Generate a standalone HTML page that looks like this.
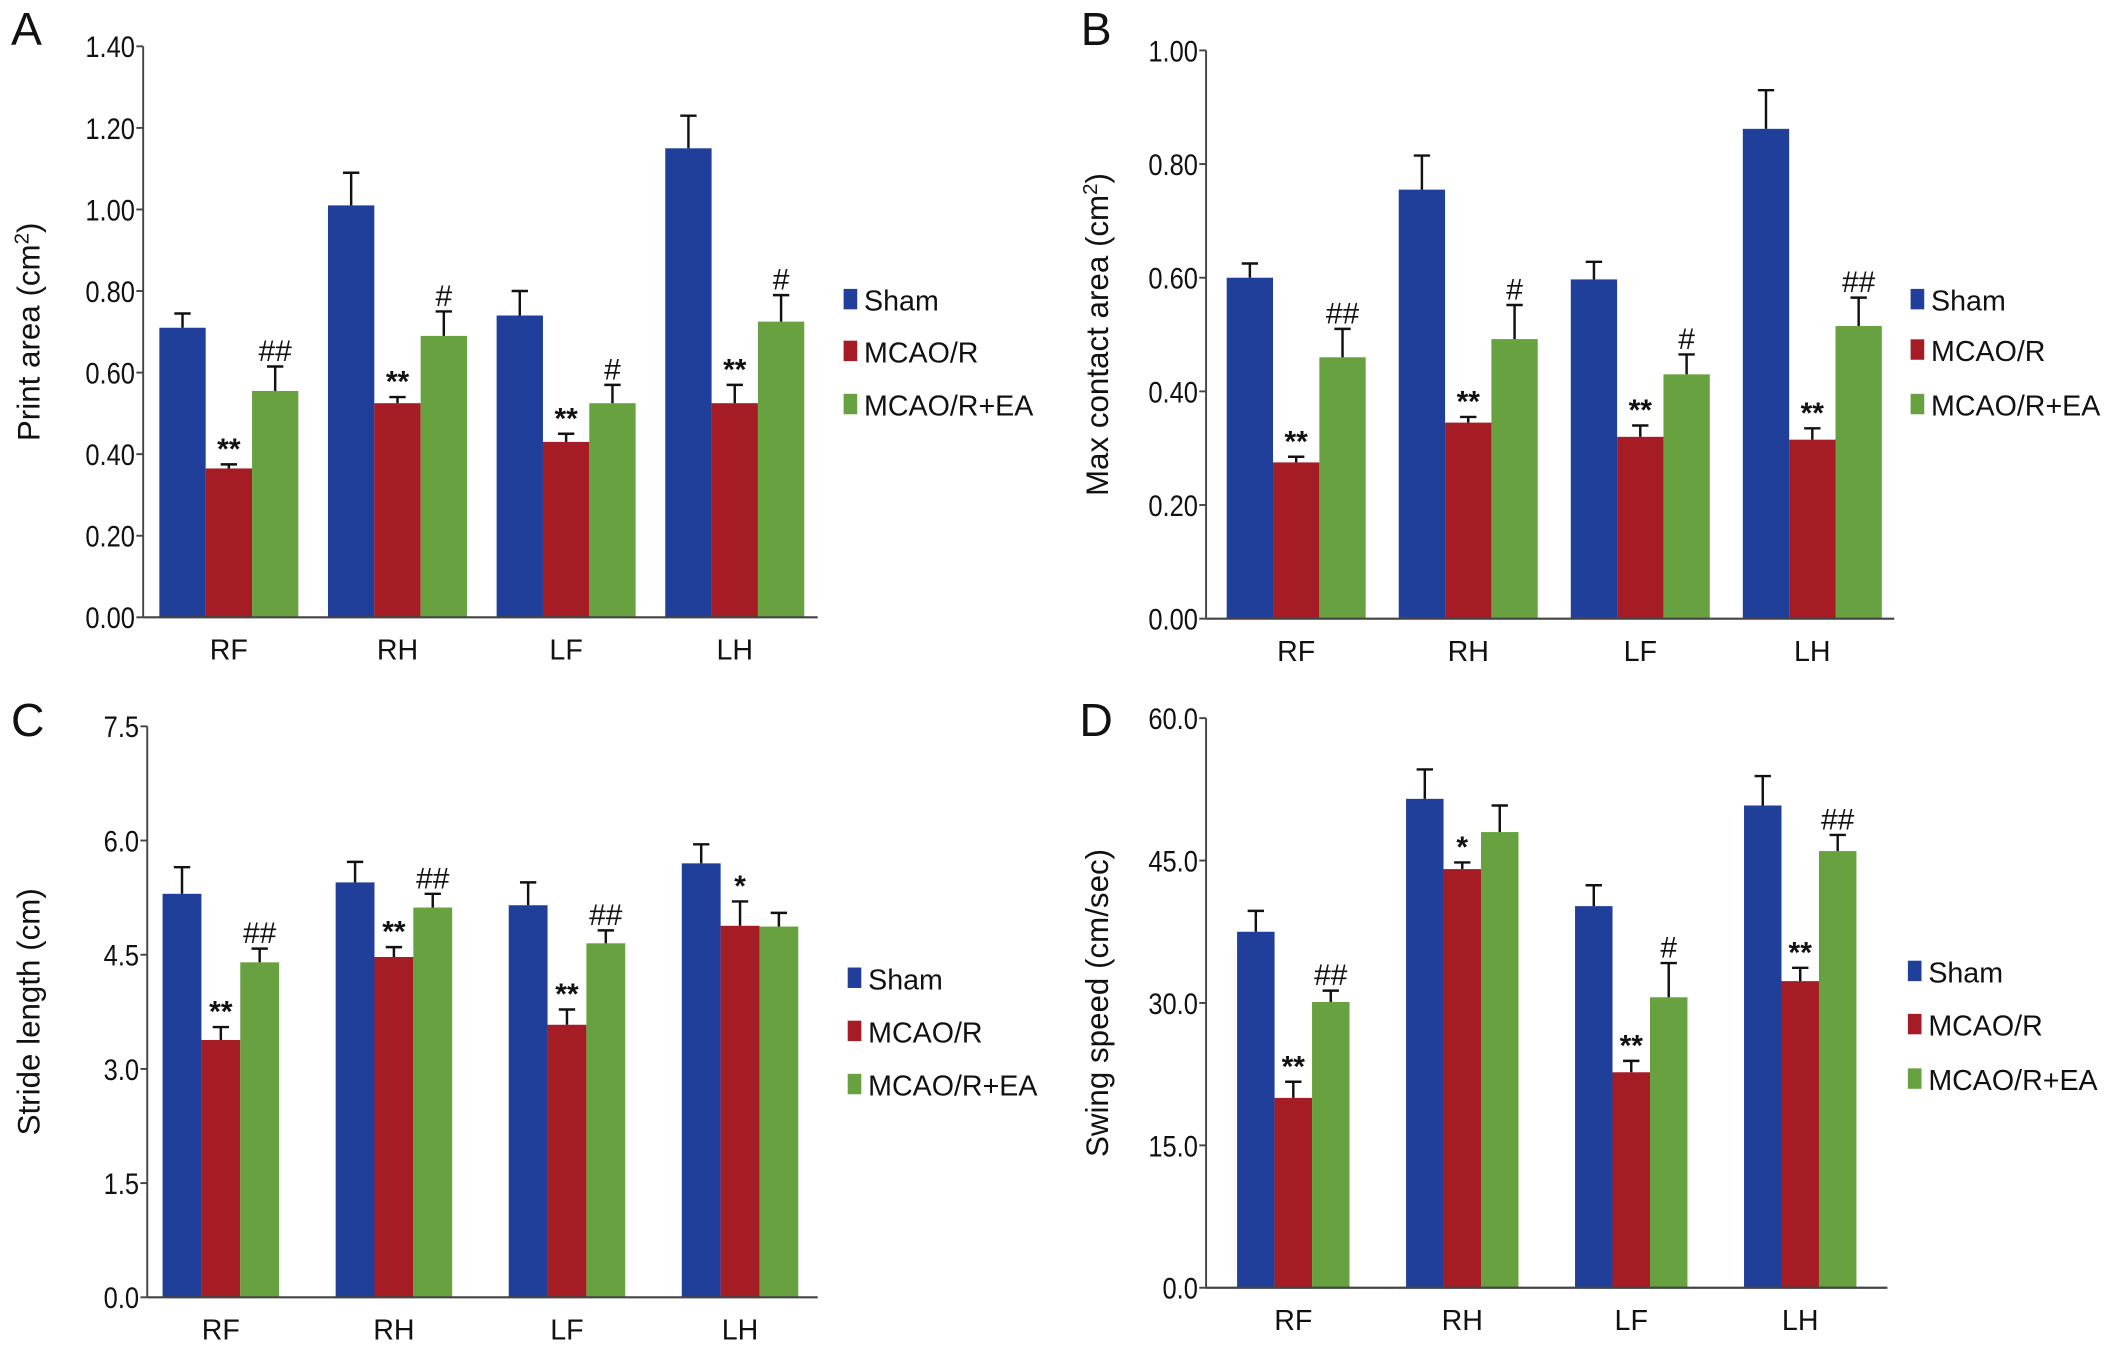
<!DOCTYPE html>
<html><head><meta charset="utf-8"><style>
html,body{margin:0;padding:0;background:#fff}
svg{display:block}
text{font-family:"Liberation Sans",Arial,sans-serif;fill:#111}
</style></head><body>
<svg id="fig" width="2126" height="1345" viewBox="0 0 1560 987" xmlns="http://www.w3.org/2000/svg"></svg>
<script>
const categories = ["RF","RH","LF","LH"];
const seriesNames = ["Sham","MCAO/R","MCAO/R+EA"];
// Panel A
const aSham = [0.71,1.01,0.74,1.15], aShamErr = [0.035,0.08,0.06,0.08];
const aMcao = [0.365,0.525,0.43,0.525], aMcaoErr = [0.01,0.015,0.02,0.045];
const aEa = [0.555,0.69,0.525,0.725], aEaErr = [0.06,0.06,0.045,0.065];
const aTicks = ["0.00","0.20","0.40","0.60","0.80","1.00","1.20","1.40"];
const aMcaoSig = ["**","**","**","**"], aEaSig = ["##","#","#","#"];
// Panel B
const bSham = [0.60,0.755,0.597,0.862], bShamErr = [0.025,0.06,0.031,0.068];
const bMcao = [0.275,0.345,0.32,0.315], bMcaoErr = [0.01,0.01,0.02,0.02];
const bEa = [0.46,0.492,0.43,0.515], bEaErr = [0.05,0.06,0.035,0.05];
const bTicks = ["0.00","0.20","0.40","0.60","0.80","1.00"];
const bMcaoSig = ["**","**","**","**"], bEaSig = ["##","#","#","##"];
// Panel C
const cSham = [5.3,5.45,5.15,5.7], cShamErr = [0.35,0.27,0.3,0.25];
const cMcao = [3.38,4.47,3.58,4.88], cMcaoErr = [0.17,0.13,0.2,0.32];
const cEa = [4.4,5.12,4.65,4.87], cEaErr = [0.18,0.18,0.17,0.18];
const cTicks = ["0.0","1.5","3.0","4.5","6.0","7.5"];
const cMcaoSig = ["**","**","**","*"], cEaSig = ["##","##","##",""];
// Panel D
const dSham = [37.5,51.5,40.2,50.8], dShamErr = [2.2,3.1,2.2,3.1];
const dMcao = [20.0,44.1,22.7,32.3], dMcaoErr = [1.7,0.7,1.2,1.4];
const dEa = [30.1,48.0,30.6,46.0], dEaErr = [1.2,2.8,3.6,1.7];
const dTicks = ["0.0","15.0","30.0","45.0","60.0"];
const dMcaoSig = ["**","*","**","**"], dEaSig = ["##","","#","##"];

const colors = ["#1f3f9a","#a51c24","#68a240"];
const NS = "http://www.w3.org/2000/svg";
const svg = document.getElementById("fig");
function el(tag, attrs, parent){const e=document.createElementNS(NS,tag);for(const k in attrs)e.setAttribute(k,attrs[k]);(parent||svg).appendChild(e);return e;}

function panel(cfg){
  const g = el("g",{});
  
  
  const {x0,x1,yTop,yBot,ymax,bw,title,letter,ticks,vals,errs,sigs} = cfg;
  const y = v => yBot - (v/ymax)*(yBot-yTop);
  const band = cfg.band || (x1-x0)/categories.length;
  const cx = i => x0 + cfg.off + band*(i+0.5);
  const L = el("text",{x:cfg.lx,y:cfg.ly,"font-size":34},g); L.textContent=letter;
  
  
  for(let s=0;s<3;s++){
    for(let i=0;i<categories.length;i++){
      const v=vals[s][i], left=cx(i)-1.5*bw+s*bw;
      const r=el("rect",{x:left,y:y(v),width:bw,height:yBot-y(v),fill:colors[s]},g);
      
      
      const mx=left+bw/2, et=y(v+errs[s][i]);
      el("line",{x1:mx,y1:y(v),x2:mx,y2:et,stroke:"#111","stroke-width":1.8},g);
      el("line",{x1:mx-6,y1:et,x2:mx+6,y2:et,stroke:"#111","stroke-width":1.8},g);
      if(sigs[s] && sigs[s][i]){
        const t=el("text",{x:mx,y:et-4,"font-size":22,"text-anchor":"middle","font-weight":s==1?"bold":"normal"},g);
        t.textContent=sigs[s][i];
        
        
      }
    }
  }
  el("line",{x1:x0,y1:yTop,x2:x0,y2:yBot,stroke:"#444","stroke-width":1.4},g);
  el("line",{x1:x0,y1:yBot,x2:x1,y2:yBot,stroke:"#444","stroke-width":1.6},g);
  ticks.forEach((t,k)=>{
    const v=ymax*k/(ticks.length-1), yy=y(v);
    el("line",{x1:x0-5,y1:yy,x2:x0,y2:yy,stroke:"#444","stroke-width":1.4},g);
    const tx=el("text",{x:x0-6,y:yy+8,"font-size":22,"text-anchor":"end",transform:`translate(${x0-6},0) scale(0.85,1) translate(${-(x0-6)},0)`},g);
    tx.textContent=t;
    
    
  });
  categories.forEach((c,i)=>{
    const t=el("text",{x:cx(i),y:yBot+31,"font-size":21,"text-anchor":"middle"},g);
    t.textContent=c;
    
    
  });
  const yt=el("text",{x:0,y:0,"font-size":23,"text-anchor":"middle",transform:`translate(${cfg.tx},${(yTop+yBot)/2}) rotate(-90)`},g);
  yt.innerHTML=title;
  
  
  seriesNames.forEach((n,s)=>{
    const ly=cfg.legY[s];
    const r=el("rect",{x:cfg.legX,y:ly-8,width:10,height:15,fill:colors[s]},g);
    
    
    const t=el("text",{x:cfg.legX+15,y:ly+8,"font-size":21},g);
    t.textContent=n;
    
    
  });
}
panel({letter:"A",lx:8,ly:33,x0:105,x1:600,yTop:34,yBot:453,ymax:1.4,bw:34,off:1,ticks:aTicks,
  vals:[aSham,aMcao,aEa],errs:[aShamErr,aMcaoErr,aEaErr],sigs:[null,aMcaoSig,aEaSig],
  title:'Print area (cm<tspan baseline-shift="super" font-size="15">2</tspan>)',tx:29,legX:619,legY:[220,258,297]});
panel({letter:"B",lx:793,ly:33,x0:885,x1:1390,yTop:37,yBot:454,ymax:1.0,bw:34,off:3,ticks:bTicks,
  vals:[bSham,bMcao,bEa],errs:[bShamErr,bMcaoErr,bEaErr],sigs:[null,bMcaoSig,bEaSig],
  title:'Max contact area (cm<tspan baseline-shift="super" font-size="15">2</tspan>)',tx:813,legX:1402,legY:[220,257,297]});
panel({letter:"C",lx:8,ly:540,x0:108,x1:600,yTop:533,yBot:952,ymax:7.5,bw:28.5,band:127,off:-9.5,ticks:cTicks,
  vals:[cSham,cMcao,cEa],errs:[cShamErr,cMcaoErr,cEaErr],sigs:[null,cMcaoSig,cEaSig],
  title:'Stride length (cm)',tx:29,legX:622,legY:[718,757,796]});
panel({letter:"D",lx:792,ly:540,x0:885,x1:1385,yTop:527,yBot:945,ymax:60,bw:27.5,band:124,off:2,ticks:dTicks,
  vals:[dSham,dMcao,dEa],errs:[dShamErr,dMcaoErr,dEaErr],sigs:[null,dMcaoSig,dEaSig],
  title:'Swing speed (cm/sec)',tx:813,legX:1400,legY:[713,752,792]});
</script>
</body></html>
